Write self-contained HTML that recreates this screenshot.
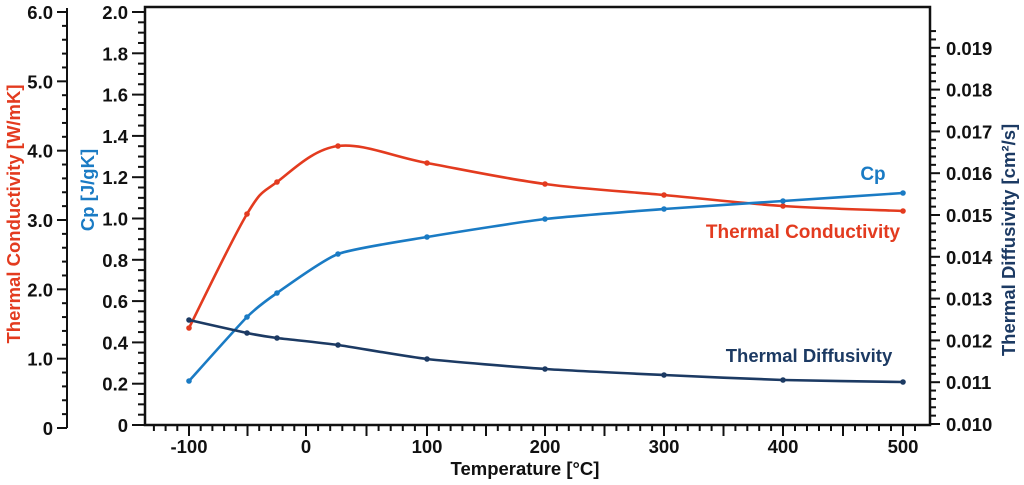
<!DOCTYPE html>
<html><head><meta charset="utf-8"><style>
html,body{margin:0;padding:0;background:#fff;width:1024px;height:485px;overflow:hidden}
svg{display:block;font-family:"Liberation Sans",sans-serif;font-weight:bold}
</style></head><body>
<svg id="s" width="1024" height="485" viewBox="0 0 1024 485" xmlns="http://www.w3.org/2000/svg">
<rect x="145" y="7" width="785" height="418" fill="none" stroke="#111" stroke-width="2.5"/>
<g id="ax" stroke="#111" stroke-width="2"></g>
<g id="lab" font-size="18.5" fill="#111"></g>
<g id="ser" fill="none" stroke-width="2.6"></g>
<text x="873" y="180" fill="#1a7bc4" font-size="19" text-anchor="middle">Cp</text>
<text x="803" y="238" fill="#e33b1f" font-size="19" text-anchor="middle">Thermal Conductivity</text>
<text x="809" y="362" fill="#1c3a63" font-size="18.5" text-anchor="middle">Thermal Diffusivity</text>
<text transform="translate(20,214) rotate(-90)" fill="#e33b1f" font-size="18.5" text-anchor="middle">Thermal Conductivity [W/mK]</text>
<text transform="translate(94,190) rotate(-90)" fill="#1a7bc4" font-size="18.5" text-anchor="middle">Cp [J/gK]</text>
<text transform="translate(1015,240) rotate(-90)" fill="#1c3a63" font-size="18.5" text-anchor="middle">Thermal Diffusivity [cm²/s]</text>
<text x="525" y="475" font-size="18.5" text-anchor="middle" fill="#111">Temperature [°C]</text>
</svg>
<script>
var ax=document.getElementById('ax'),lab=document.getElementById('lab'),ser=document.getElementById('ser');
function L(x1,y1,x2,y2){ax.innerHTML+='<line x1="'+x1+'" y1="'+y1+'" x2="'+x2+'" y2="'+y2+'"/>';}
function T(x,y,t,a){lab.innerHTML+='<text x="'+x+'" y="'+y+'" text-anchor="'+a+'">'+t+'</text>';}
L(67,8,67,428);
for(var i=0;i<=30;i++){var y=428-i*(416/30);L(i%5==0?57:62,y,67,y);if(i%5==0)T(53,y+7,i==0?'0':(i/5).toFixed(1),'end');}
for(var i=0;i<=40;i++){var y=425-i*(413/40);L(i%4==0?132:138,y,145,y);if(i%4==0)T(128,y+7,i==0?'0':(i/20).toFixed(1),'end');}
for(var i=0;i<=47;i++){var y=424-i*(41.8/5);if(y<8)break;L(930,y,i%5==0?940:936,y);if(i%5==0)T(946,y+7,(0.010+i/5000).toFixed(3),'start');}
var kx=[-100,0,100,200,300,400,500],px=[189,306,427,545,664,783,903];
function X(t){for(var j=0;j<6;j++){if(t<=kx[j+1]||j==5){return px[j]+(t-kx[j])*(px[j+1]-px[j])/100;}}}
for(var t=-130;t<=510;t+=10){var x=X(t);L(x,425,x,t%50==0?436:431);if(t%100==0)T(x,453,t,'middle');}
function path(p,c,s){var d='M'+p[0][0]+','+p[0][1];for(var i=0;i<p.length-1;i++){var p0=p[i>0?i-1:i],p1=p[i],p2=p[i+1],p3=p[i+2<p.length?i+2:i+1];d+=' C'+(p1[0]+(p2[0]-p0[0])/s)+','+(p1[1]+(p2[1]-p0[1])/s)+' '+(p2[0]-(p3[0]-p1[0])/s)+','+(p2[1]-(p3[1]-p1[1])/s)+' '+p2[0]+','+p2[1];}
ser.innerHTML+='<path d="'+d+'" stroke="'+c+'"/>';p.forEach(function(q){ser.innerHTML+='<circle cx="'+q[0]+'" cy="'+q[1]+'" r="2.8" fill="'+c+'" stroke="none"/>';});}
path([[189,328],[247,214],[277,182],[338,146],[427,163],[545,184],[664,195],[783,206],[903,211]],'#e33b1f',6);
path([[189,381],[247,317],[277,293],[338,254],[427,237],[545,219],[664,209],[783,201],[903,193]],'#1a7bc4',10);
path([[189,320],[247,333],[277,338],[338,345],[427,359],[545,369],[664,375],[783,380],[903,382]],'#1c3a63',10);
</script>
</body></html>
